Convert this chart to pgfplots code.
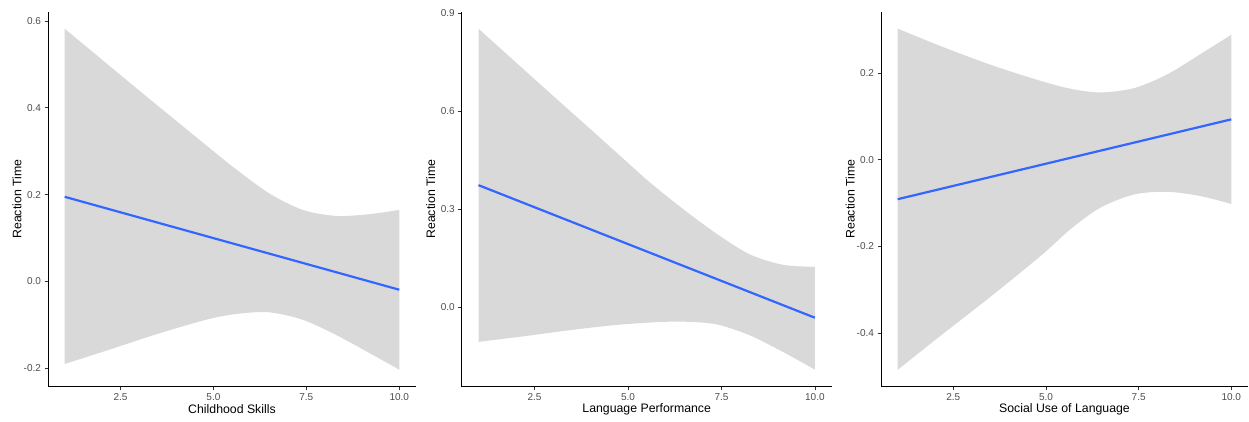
\documentclass[border=0pt]{standalone}
\usepackage{pgfplots}
\pgfplotsset{compat=1.18}
\usepgfplotslibrary{fillbetween}
\usepackage{fontspec}
\setmainfont{Liberation Sans}

\definecolor{ribbon}{HTML}{D9D9D9}
\definecolor{fitblue}{HTML}{3366FF}
\definecolor{gray30}{HTML}{4D4D4D}
\definecolor{gray20}{HTML}{333333}

\pgfplotsset{
  ggpanel/.style={
    scale only axis,
    height=375pt,
    anchor=south west,
    axis lines*=left,
    axis line style={black, line width=0.9pt, -},
    tick align=outside,
    major tick length=3.5pt,
    tick style={gray20, line width=0.7pt},
    tick label style={font=\fontsize{10}{12}\selectfont, text=gray30},
    xmin=0.55, xmax=10.45,
    xtick={2.5,5,7.5,10},
    xticklabels={2.5,5.0,7.5,10.0},
    ylabel={Reaction Time},
    every axis x label/.style={at={(axis description cs:0.5,-0.061)}, anchor=center,
      font=\fontsize{12.3}{14}\selectfont},
    every axis y label/.style={at={(axis description cs:-0.084,0.5)}, rotate=90, anchor=center,
      font=\fontsize{12.3}{14}\selectfont},
  },
  band/.style={draw=none, smooth, forget plot},
  fit/.style={fitblue, line width=2.2pt, no marks},
}

\begin{document}
\begin{tikzpicture}
\path (0,0) rectangle (1249pt,421pt);

% panel 1
\begin{axis}[ggpanel, at={(48pt,34.3pt)}, width=368pt,
    ymin=-0.2423, ymax=0.6213,
    ytick={-0.2,0,0.2,0.4,0.6},
    yticklabels={-0.2,0.0,0.2,0.4,0.6},
    xlabel={Childhood Skills}]
\addplot[band, name path=u1] coordinates {
  (1,0.582) (2,0.511) (3,0.440) (4,0.370) (5,0.300) (5.6,0.259)
  (6.5,0.203) (7.4,0.165) (8.3,0.151) (9.2,0.155) (10,0.165)};
\addplot[band, name path=l1] coordinates {
  (1,-0.190) (2.2,-0.157) (3.56,-0.119) (4.9,-0.086) (5.7,-0.074)
  (6.5,-0.071) (7.4,-0.088) (8.3,-0.123) (9.2,-0.165) (10,-0.203)};
\addplot[fill=ribbon, draw=none] fill between[of=u1 and l1];
\addplot[fit] coordinates {(1,0.195) (10,-0.019)};
\end{axis}

% panel 2
\begin{axis}[ggpanel, at={(461.7pt,34.3pt)}, width=370pt,
    ymin=-0.2432, ymax=0.9052,
    ytick={0,0.3,0.6,0.9},
    yticklabels={0.0,0.3,0.6,0.9},
    xlabel={Language Performance}]
\addplot[band, name path=u2] coordinates {
  (1,0.853) (2,0.750) (3,0.647) (4,0.545) (5,0.442) (5.6,0.381)
  (6.46,0.302) (7.36,0.226) (8.26,0.162) (9.15,0.130) (10,0.124)};
\addplot[band, name path=l2] coordinates {
  (1,-0.106) (2.2,-0.089) (3.38,-0.071) (4.6,-0.055) (5.7,-0.046)
  (6.46,-0.044) (7.36,-0.052) (8.26,-0.086) (9.15,-0.137) (10,-0.191)};
\addplot[fill=ribbon, draw=none] fill between[of=u2 and l2];
\addplot[fit] coordinates {(1,0.374) (10,-0.032)};
\end{axis}

% panel 3
\begin{axis}[ggpanel, at={(881pt,34.3pt)}, width=367pt,
    ymin=-0.523, ymax=0.341,
    ytick={-0.4,-0.2,0,0.2},
    yticklabels={-0.4,-0.2,0.0,0.2},
    xlabel={Social Use of Language}]
\addplot[band, name path=u3] coordinates {
  (1,0.302) (2.18,0.261) (3.53,0.218) (4.88,0.181) (5.69,0.163)
  (6.48,0.155) (7.38,0.165) (8.28,0.197) (9.18,0.244) (10,0.288)};
\addplot[band, name path=l3] coordinates {
  (1,-0.484) (2.18,-0.404) (3.53,-0.314) (4.88,-0.220) (5.69,-0.158)
  (6.48,-0.110) (7.38,-0.080) (8.28,-0.074) (9.18,-0.084) (10,-0.102)};
\addplot[fill=ribbon, draw=none] fill between[of=u3 and l3];
\addplot[fit] coordinates {(1,-0.091) (10,0.093)};
\end{axis}

\end{tikzpicture}
\end{document}
